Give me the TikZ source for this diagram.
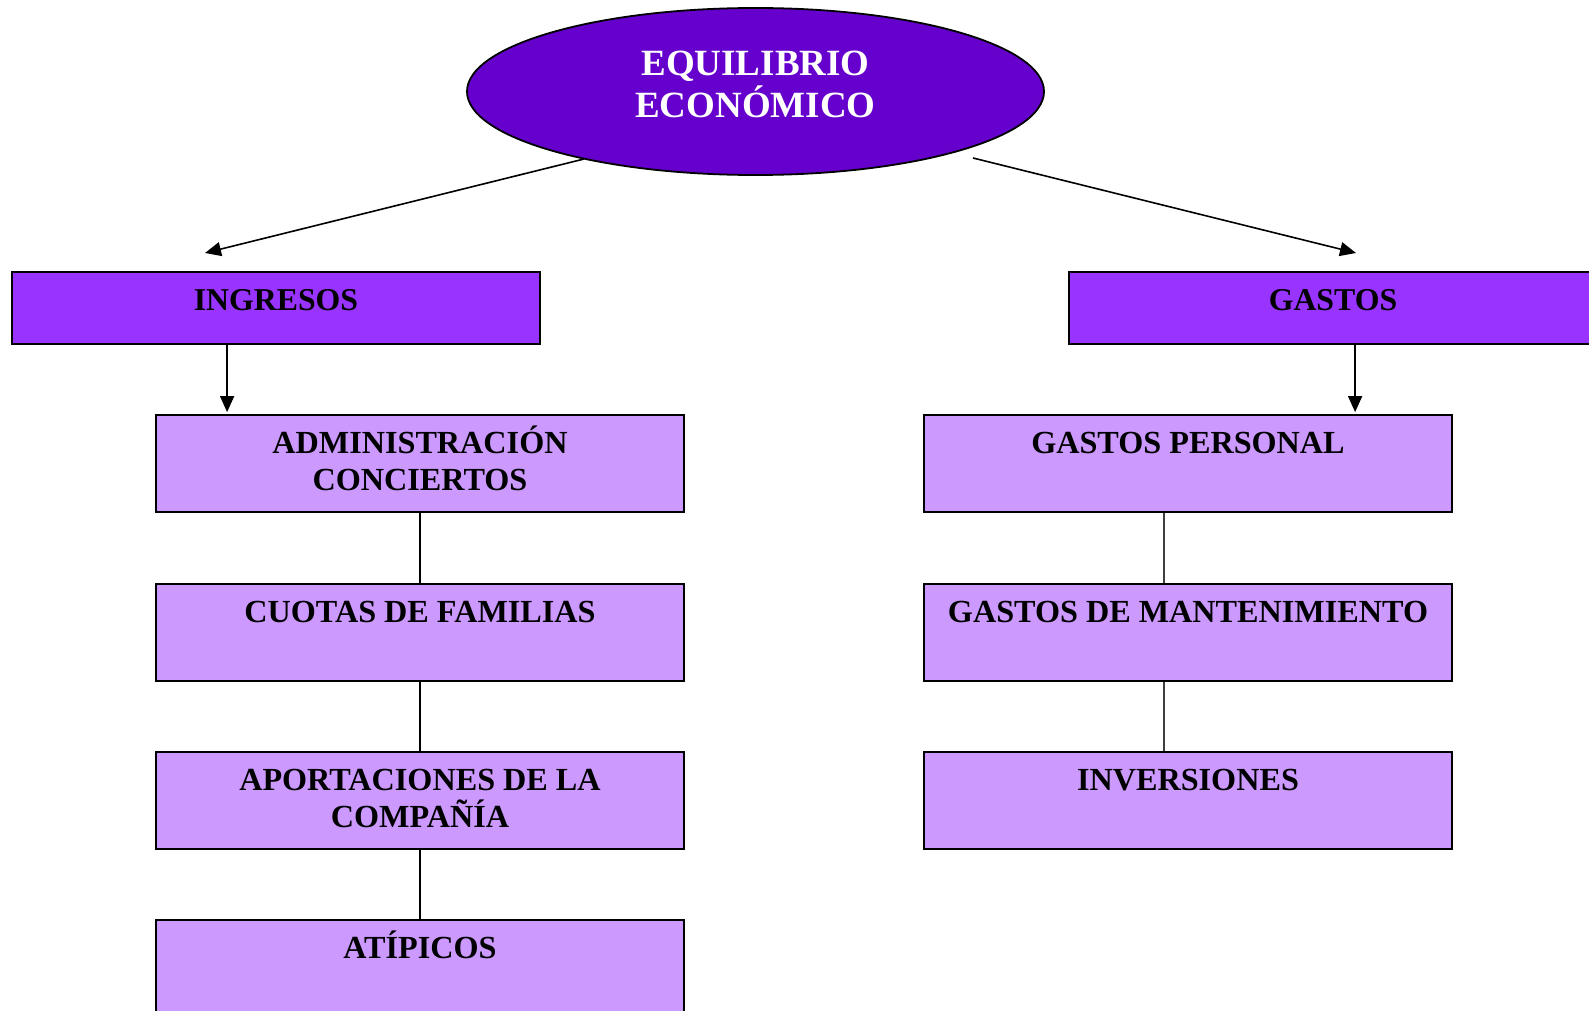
\documentclass[tikz,border=0pt]{standalone}
\usepackage{fontspec}
\setmainfont{Liberation Serif}
\usetikzlibrary{arrows.meta,shapes.geometric}
\definecolor{ellc}{HTML}{6600CC}
\definecolor{topc}{HTML}{9933FF}
\definecolor{subc}{HTML}{CC99FF}
\newcommand\elltext[1]{\parbox[c][100pt][t]{360pt}{\centering\fontsize{37}{42}\selectfont\bfseries\rule{0pt}{33.75pt}#1}}
\newcommand\toptext[1]{\parbox[c][72pt][t]{520pt}{\centering\fontsize{31.8}{37}\selectfont\bfseries\rule{0pt}{38.6pt}#1}}
\newcommand\subtext[1]{\parbox[c][97pt][t]{520pt}{\centering\fontsize{32.2}{37}\selectfont\bfseries\rule{0pt}{38.6pt}#1}}
\tikzset{
  ellnode/.style={ellipse, draw=black, line width=1.8pt, fill=ellc, text=white, minimum width=577pt, minimum height=167pt, inner sep=0pt},
  topbox/.style={rectangle, draw=black, line width=1.8pt, fill=topc, text=black, minimum width=528pt, minimum height=72pt, inner sep=0pt},
  subbox/.style={rectangle, draw=black, line width=1.8pt, fill=subc, text=black, minimum width=528pt, minimum height=97pt, inner sep=0pt},
  arr/.style={-{Triangle[length=16pt,width=14pt]}, line width=1.6pt, draw=black},
  connl/.style={line width=1.6pt, draw=black},
  connr/.style={line width=1.4pt, draw=black!75}
}
\begin{document}
\begin{tikzpicture}[x=1pt,y=-1pt]
\useasboundingbox (0,0) rectangle (1589,1011);
\clip (0,0) rectangle (1589,1011);
\fill[white] (0,0) rectangle (1589,1011);

\node[ellnode] (ell) at (755.5,91.5) {\elltext{EQUILIBRIO\\ECONÓMICO}};

\node[topbox] (ing) at (276,308) {\toptext{INGRESOS}};
\node[topbox] (gas) at (1333,308) {\toptext{GASTOS}};

\node[subbox] (a1) at (420,463.5) {\subtext{ADMINISTRACIÓN\\CONCIERTOS}};
\node[subbox] (a2) at (420,632.5) {\subtext{CUOTAS DE FAMILIAS}};
\node[subbox] (a3) at (420,800.5) {\subtext{APORTACIONES DE LA\\COMPAÑÍA}};
\node[subbox] (a4) at (420,968.5) {\subtext{ATÍPICOS}};

\node[subbox] (b1) at (1188,463.5) {\subtext{GASTOS PERSONAL}};
\node[subbox] (b2) at (1188,632.5) {\subtext{GASTOS DE MANTENIMIENTO}};
\node[subbox] (b3) at (1188,800.5) {\subtext{INVERSIONES}};

\coordinate (ls) at (584,159);
\coordinate (lt) at (205,253);
\coordinate (rs) at (973,158);
\coordinate (rt) at (1356,253);
\draw[arr] (ls) -- (lt);
\draw[arr] (rs) -- (rt);

\draw[arr] ([xshift=216pt]ing.south west) -- ([xshift=72pt,yshift=2pt]a1.north west);
\draw[arr] ([xshift=287pt]gas.south west) -- ([xshift=432pt,yshift=2pt]b1.north west);

\draw[connl] (a1.south) -- (a2.north);
\draw[connl] (a2.south) -- (a3.north);
\draw[connl] (a3.south) -- (a4.north);

\draw[connr] ([xshift=-24pt]b1.south) -- ([xshift=-24pt]b2.north);
\draw[connr] ([xshift=-24pt]b2.south) -- ([xshift=-24pt]b3.north);
\end{tikzpicture}
\end{document}
